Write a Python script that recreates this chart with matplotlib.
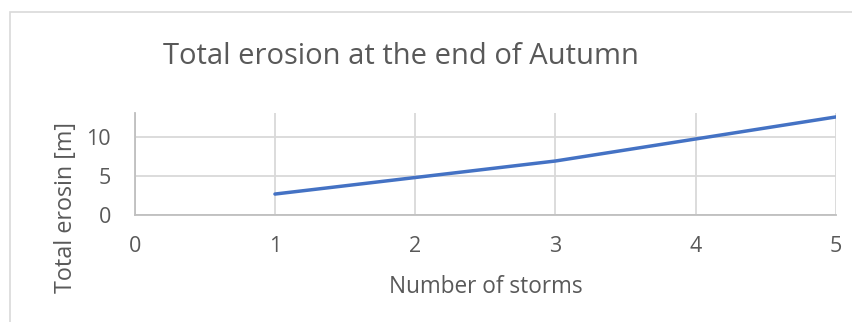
import matplotlib.pyplot as plt
from matplotlib.patches import Rectangle

storms = [1, 2, 3, 4, 5]
erosion = [2.7, 4.8, 6.9, 9.7, 12.5]
x_ticks = [0, 1, 2, 3, 4, 5]
y_ticks = [0, 5, 10]

W, H = 853, 322
TXT = "#595959"
GRID = "#D9D9D9"
FONT = "Open Sans"

fig = plt.figure(figsize=(W / 100, H / 100), dpi=100)
fig.patch.set_facecolor("white")

# chart-area border (top and left edges visible)
fig.patches.append(Rectangle((10 / W, -0.1), 1.2, (H - 12) / H + 0.1,
                             transform=fig.transFigure, fill=False,
                             edgecolor=GRID, linewidth=1.2))

ax = fig.add_axes([134.7 / W, (H - 215.3) / H, (836 - 134.7) / W, (215.3 - 113.3) / H])
ax.plot(storms, erosion, color="#4472C4", linewidth=2.5, solid_capstyle="round", zorder=3)

ax.set_xlim(0, 5)
ax.set_ylim(0, 12.96)
ax.set_xticks(x_ticks)
ax.set_yticks(y_ticks)
ax.grid(True, color=GRID, linewidth=1.3)
ax.set_axisbelow(True)
for s in ["top", "right"]:
    ax.spines[s].set_visible(False)
for s in ["left", "bottom"]:
    ax.spines[s].set_color("#BFBFBF")
    ax.spines[s].set_linewidth(1.3)
ax.tick_params(length=0, labelsize=15.5, labelcolor=TXT)
ax.tick_params(axis="x", pad=15)
ax.tick_params(axis="y", pad=17)
for lab in ax.get_xticklabels() + ax.get_yticklabels():
    lab.set_fontfamily(FONT)

fig.text(401 / W, 1 - 57 / H, "Total erosion at the end of Autumn",
         ha="center", va="center", fontsize=21, color=TXT, family=FONT)
fig.text(485.5 / W, 1 - 287 / H, "Number of storms",
         ha="center", va="center", fontsize=16.3, color=TXT, family=FONT)
fig.text(66 / W, 1 - 207.5 / H, "Total erosin [m]", rotation=90,
         ha="center", va="center", fontsize=16.8, color=TXT, family=FONT)

fig.savefig("out.png", dpi=100)
